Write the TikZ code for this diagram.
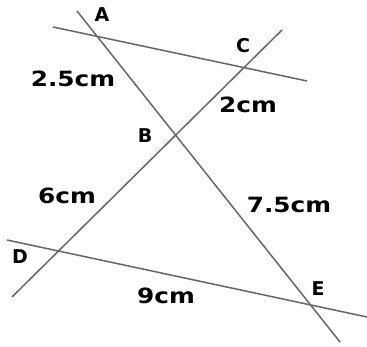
\documentclass[tikz,border=0pt]{standalone}
\usepackage{fontspec}
\setmainfont{DejaVu Sans}
\newcommand{\wide}[1]{\scalebox{1.18}[1]{#1}}
\tikzset{
	ln/.style = {line width = 1.5pt, color = black!60},
	len/.style = {font = \fontsize{21}{25}\selectfont\bfseries, text = black, inner sep = 0pt},
	pt/.style = {font = \fontsize{19}{22}\selectfont\bfseries, text = black, inner sep = 0pt}
}
\begin{document}
\begin{tikzpicture} [x = 1pt, y = -1pt]
	\useasboundingbox [fill = white] (0,0) rectangle (367,347);
	% ends of the four lines
	\coordinate (ac1) at (53,27);
	\coordinate (ac2) at (307,81);
	\coordinate (ae1) at (77,11);
	\coordinate (ae2) at (340,342);
	\coordinate (dc1) at (12,297);
	\coordinate (dc2) at (282,30);
	\coordinate (de1) at (7,240);
	\coordinate (de2) at (367,317);
	\draw [ln] (ac1) -- (ac2);
	\draw [ln] (ae1) -- (ae2);
	\draw [ln] (dc1) -- (dc2);
	\draw [ln] (de1) -- (de2);
	% points
	\node [pt] (ptA) at (102,15) {A};
	\node [pt] (ptB) at (145,136) {B};
	\node [pt] (ptC) at (243,46) {C};
	\node [pt] (ptD) at (20,257) {D};
	\node [pt] (ptE) at (318,289) {E};
	% lengths
	\node [len] (lenAB) at (73,79) {\wide{2.5cm}};
	\node [len] (lenBC) at (248,105) {\wide{2cm}};
	\node [len] (lenBD) at (67,196) {\wide{6cm}};
	\node [len] (lenBE) at (289,205) {\wide{7.5cm}};
	\node [len] (lenDE) at (166,296) {\wide{9cm}};
\end{tikzpicture}
\end{document}
